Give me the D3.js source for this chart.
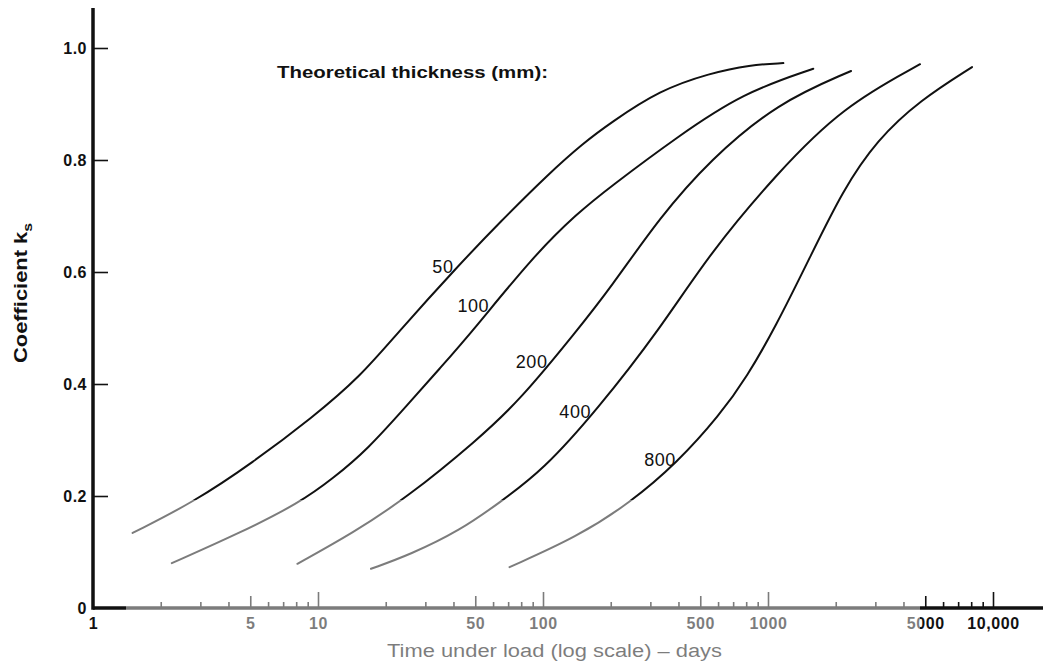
<!DOCTYPE html>
<html>
<head>
<meta charset="utf-8">
<script src="https://cdn.jsdelivr.net/npm/d3@7"></script>
<style>
  html, body { margin: 0; padding: 0; background: #fff; }
  svg { display: block; }
  text { font-family: "Liberation Sans", Arial, Helvetica, sans-serif; fill: #111; }
</style>
</head>
<body>
<svg id="chart" width="1045" height="666"></svg>
<script>
// Creep coefficient k_s against time under load, one curve per theoretical thickness
const thicknessMm = [50, 100, 200, 400, 800];

const days50  = [1.5, 2.8, 5.1, 9.5, 15.4, 23, 41.5, 64, 107, 151, 199, 331, 552, 832, 1170];
const coef50  = [0.134, 0.189, 0.259, 0.341, 0.413, 0.495, 0.609, 0.688, 0.777, 0.830, 0.866, 0.925, 0.955, 0.970, 0.973];

const days100 = [2.24, 4.5, 8.3, 11.7, 16.5, 25, 35, 49, 90, 142, 199, 394, 774, 1590];
const coef100 = [0.080, 0.134, 0.188, 0.232, 0.282, 0.363, 0.429, 0.496, 0.627, 0.705, 0.752, 0.841, 0.920, 0.963];

const days200 = [8.1, 14.3, 25, 51, 79, 142, 199, 331, 552, 1100, 2340];
const coef200 = [0.079, 0.134, 0.198, 0.300, 0.371, 0.496, 0.571, 0.698, 0.800, 0.902, 0.959];

const days400 = [17.2, 25.6, 43, 64, 100, 174, 331, 552, 1100, 2150, 4740];
const coef400 = [0.070, 0.095, 0.139, 0.188, 0.246, 0.354, 0.498, 0.634, 0.777, 0.895, 0.971];

const days800 = [71, 142, 244, 394, 612, 806, 1074, 1540, 2150, 3050, 4740, 8070];
const coef800 = [0.073, 0.127, 0.188, 0.259, 0.345, 0.413, 0.500, 0.627, 0.746, 0.836, 0.907, 0.966];

// coefficient level at which each curve carries its thickness label
const labelLevel = [0.61, 0.54, 0.44, 0.35, 0.265];

const yTickValues = [0, 0.2, 0.4, 0.6, 0.8, 1.0];
const xLabelled = [1, 5, 10, 50, 100, 500, 1000, 5000, 10000];

const titleText = "Theoretical thickness (mm):";
const xTitle = "Time under load (log scale) \u2013 days";
const yTitle = "Coefficient";
const ySub = "s";

// ---------------------------------------------------------------
const W = 1045, H = 666;
const svg = d3.select("#chart");

const x = d3.scaleLog().domain([1, 10000]).range([93, 993]);
const y = d3.scaleLinear().domain([0, 1]).range([608, 48]);

const series = [
  { mm: thicknessMm[0], t: days50,  k: coef50 },
  { mm: thicknessMm[1], t: days100, k: coef100 },
  { mm: thicknessMm[2], t: days200, k: coef200 },
  { mm: thicknessMm[3], t: days400, k: coef400 },
  { mm: thicknessMm[4], t: days800, k: coef800 }
].map((s, i) => ({ ...s, pts: s.t.map((t, j) => [t, s.k[j]]), level: labelLevel[i] }));

// x ticks: every integer within each decade
const xTicks = [];
for (let d = 1; d <= 1000; d *= 10) for (let m = 1; m <= 9; m++) xTicks.push(d * m);
xTicks.push(10000);

const isMajor = v => Math.abs(Math.log10(v) - Math.round(Math.log10(v))) < 1e-9;
const isHalf = v => isMajor(v / 5);

// ---- x axis
const xAxis = d3.axisBottom(x)
  .tickValues(xTicks)
  .tickSizeInner(0)
  .tickSizeOuter(0)
  .tickPadding(10)
  .tickFormat(v => xLabelled.includes(v) ? (v >= 10000 ? d3.format(",")(v) : String(v)) : "");

const gx = svg.append("g").attr("transform", `translate(0,${y(0)})`).call(xAxis);
gx.select(".domain").remove();
gx.selectAll(".tick line")
  .attr("stroke", "#111")
  .attr("stroke-width", 1.6)
  .attr("y2", d => d === 1 ? 0 : (isMajor(d) ? -16 : (isHalf(d) ? -12 : -6)));
gx.selectAll(".tick text")
  .attr("font-size", 16)
  .attr("font-weight", "bold")
  .attr("fill", "#111")
  .attr("letter-spacing", 0.6);

svg.append("line")
  .attr("x1", x(1)).attr("x2", W - 2)
  .attr("y1", y(0)).attr("y2", y(0))
  .attr("stroke", "#111").attr("stroke-width", 3.5);

// ---- y axis
const yAxis = d3.axisLeft(y)
  .tickValues(yTickValues)
  .tickSizeInner(-15)
  .tickSizeOuter(0)
  .tickPadding(6)
  .tickFormat(v => v === 0 ? "0" : d3.format(".1f")(v));

const gy = svg.append("g").attr("transform", `translate(${x(1)},0)`).call(yAxis);
gy.select(".domain").remove();
gy.selectAll(".tick line").attr("stroke", "#111").attr("stroke-width", 1.6)
  .attr("x2", d => d === 0 ? 0 : 15);
gy.selectAll(".tick text")
  .attr("font-size", 16)
  .attr("font-weight", "bold")
  .attr("fill", "#111")
  .attr("letter-spacing", 0.5);

svg.append("line")
  .attr("x1", x(1)).attr("x2", x(1))
  .attr("y1", 8).attr("y2", y(0) + 1.75)
  .attr("stroke", "#111").attr("stroke-width", 3.5);

// ---- curves (B-spline through the read-off points keeps them smooth)
const line = d3.line()
  .x(d => x(d[0]))
  .y(d => y(d[1]))
  .curve(d3.curveBasis);

svg.append("g").selectAll("path")
  .data(series)
  .join("path")
  .attr("d", s => line(s.pts))
  .attr("fill", "none")
  .attr("stroke", "#111")
  .attr("stroke-width", 2)
  .attr("stroke-linecap", "round");

// thickness labels sit just left of each curve
function curveXAt(s, k) {
  for (let j = 1; j < s.pts.length; j++) {
    const [t0, k0] = s.pts[j - 1], [t1, k1] = s.pts[j];
    if ((k - k0) * (k - k1) <= 0) {
      const f = (k - k0) / (k1 - k0);
      return x(Math.pow(10, Math.log10(t0) + f * (Math.log10(t1) - Math.log10(t0))));
    }
  }
  return x(s.pts[0][0]);
}

svg.append("g").selectAll("text")
  .data(series)
  .join("text")
  .attr("x", s => curveXAt(s, s.level) - 4)
  .attr("y", s => y(s.level))
  .attr("dy", "0.35em")
  .attr("text-anchor", "end")
  .attr("font-size", 18)
  .attr("letter-spacing", 0.6)
  .text(s => s.mm);

// ---- titles
svg.append("text")
  .attr("x", 277).attr("y", 78)
  .attr("font-size", 17)
  .attr("font-weight", "bold")
  .attr("textLength", 271)
  .attr("lengthAdjust", "spacingAndGlyphs")
  .text(titleText);

svg.append("text")
  .attr("x", 387).attr("y", 657)
  .attr("font-size", 18)
  .attr("textLength", 335)
  .attr("lengthAdjust", "spacingAndGlyphs")
  .text(xTitle);

const yt = svg.append("text")
  .attr("transform", "translate(27,363) rotate(-90)")
  .attr("font-size", 18)
  .attr("font-weight", "bold")
  .attr("textLength", 140)
  .attr("lengthAdjust", "spacingAndGlyphs");
yt.append("tspan").text(yTitle + "  k");
yt.append("tspan").attr("font-size", 13).attr("dy", 5).text(ySub);

// lighter print along the bottom band of the sheet
svg.append("rect")
  .attr("x", 126).attr("y", 500)
  .attr("width", 920 - 126).attr("height", H - 500)
  .attr("fill", "#fff").attr("opacity", 0.45);
</script>
</body>
</html>
